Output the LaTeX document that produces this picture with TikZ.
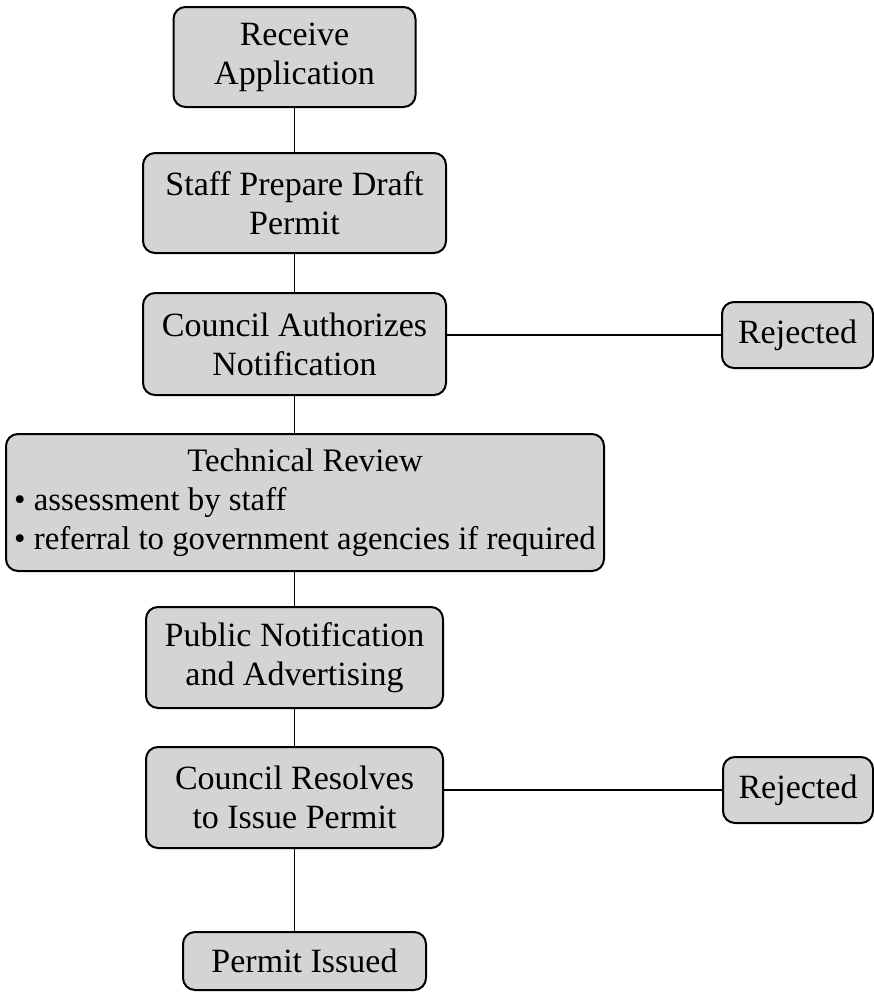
\documentclass[tikz,border=0pt]{standalone}
\usepackage{fontspec}
\setmainfont{Liberation Serif}

\begin{document}
\begin{tikzpicture}[x=0.5pt,y=-0.5pt,
		stepbox/.style={draw,line width=1pt,rounded corners=6pt,fill=black!17,align=center,inner sep=0pt,
			font=\fontsize{17}{19.5}\selectfont},
		link/.style={line width=0.8pt}]
	\useasboundingbox (0,0) rectangle (874,993);
	\node[stepbox,minimum width=121pt,minimum height=50pt] (recv) at (294.5,57) {Receive\\Application};
	\node[stepbox,minimum width=151.5pt,minimum height=50pt] (staff) at (294.5,203) {Staff Prepare Draft\\Permit};
	\node[stepbox,minimum width=151.5pt,minimum height=51pt] (cauth) at (294.5,344) {Council Authorizes\\Notification};
	\node[stepbox,minimum width=75.5pt,minimum height=33pt] (rej1) at (797.5,335) {Rejected};
	\node[stepbox,minimum width=299pt,minimum height=68.5pt,font=\fontsize{16.4}{19.5}\selectfont] (tech) at (305,502.5) {\begin{tabular}{@{}l@{}}
			\multicolumn{1}{@{}c@{}}{Technical Review}\\
			\textbullet\ assessment by staff\\
			\textbullet\ referral to government agencies if required
		\end{tabular}};
	\node[stepbox,minimum width=148.5pt,minimum height=50.5pt] (pub) at (294.5,657.5) {Public Notification\\and Advertising};
	\node[stepbox,minimum width=148.5pt,minimum height=50.5pt] (cres) at (294.5,797.5) {Council Resolves\\to Issue Permit};
	\node[stepbox,minimum width=75pt,minimum height=33pt] (rej2) at (798,790) {Rejected};
	\node[stepbox,minimum width=121.5pt,minimum height=29pt] (issued) at (304.5,961) {Permit Issued};
	% connectors
	\draw[link] (recv) -- (staff);
	\draw[link] (staff) -- (cauth);
	\draw[link] (cauth.south) -- (cauth.south |- tech.north);
	\draw[link] (cauth.south |- tech.south) -- (pub.north);
	\draw[link] (pub) -- (cres);
	\draw[link] (cres.south) -- (cres.south |- issued.north);
	\draw[link] (rej1.west) -- (rej1.west -| cauth.east);
	\draw[link] (rej2.west) -- (rej2.west -| cres.east);
\end{tikzpicture}
\end{document}
